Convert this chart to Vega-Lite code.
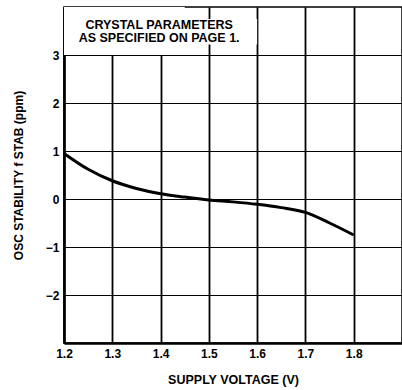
{
  "$schema": "https://vega.github.io/schema/vega-lite/v6.json",
  "autosize": {"type": "none"},
  "padding": {"left": 64, "top": 7, "right": 0, "bottom": 47},
  "width": 338,
  "height": 336,
  "background": "white",
  "config": {
    "view": {"stroke": "black", "strokeWidth": 1.5},
    "font": "Liberation Sans",
    "axis": {
      "labelFont": "Liberation Sans",
      "labelFontWeight": "bold",
      "labelFontSize": 12,
      "labelColor": "black",
      "labelFlush": false,
      "titleFont": "Liberation Sans",
      "titleFontWeight": "bold",
      "titleFontSize": 12,
      "titleColor": "black",
      "gridColor": "black",
      "gridOpacity": 1,
      "domainColor": "black",
      "domainWidth": 2.5,
      "ticks": false
    }
  },
  "datasets": {
    "curve": [
      {"v": 1.2, "s": 0.95},
      {"v": 1.25, "s": 0.62},
      {"v": 1.3, "s": 0.38},
      {"v": 1.35, "s": 0.22},
      {"v": 1.4, "s": 0.11},
      {"v": 1.45, "s": 0.04},
      {"v": 1.5, "s": -0.02},
      {"v": 1.55, "s": -0.06},
      {"v": 1.6, "s": -0.11},
      {"v": 1.65, "s": -0.18},
      {"v": 1.7, "s": -0.28},
      {"v": 1.75, "s": -0.5},
      {"v": 1.8, "s": -0.75}
    ],
    "boxes": [
      {"x1": 1.2, "x2": 1.45, "y1": 3, "y2": 4},
      {"x1": 1.45, "x2": 1.6, "y1": 3.22, "y2": 3.75}
    ],
    "notes": [
      {"x": 1.397, "y": 3.62, "label": "CRYSTAL PARAMETERS"},
      {"x": 1.397, "y": 3.35, "label": "AS SPECIFIED ON PAGE 1."}
    ]
  },
  "layer": [
    {
      "data": {"name": "boxes"},
      "mark": {"type": "rect", "fill": "white", "stroke": null},
      "encoding": {
        "x": {"field": "x1", "type": "quantitative",
          "scale": {"domain": [1.2, 1.9], "nice": false, "zero": false},
          "axis": {"values": [1.2, 1.3, 1.4, 1.5, 1.6, 1.7, 1.8], "format": ".1f", "grid": true, "gridWidth": 1.8, "labelPadding": 5, "title": "SUPPLY VOLTAGE (V)", "titleFontSize": 12.5, "titlePadding": 14}},
        "x2": {"field": "x2"},
        "y": {"field": "y1", "type": "quantitative",
          "scale": {"domain": [-3, 4], "nice": false, "zero": false},
          "axis": {"values": [-2, -1, 0, 1, 2, 3], "format": "d", "grid": true, "gridWidth": 1.2, "labelPadding": 5, "title": "OSC STABILITY f STAB (ppm)", "titlePadding": 20}},
        "y2": {"field": "y2"}
      }
    },
    {
      "data": {"name": "notes"},
      "mark": {"type": "text", "font": "Liberation Sans", "fontWeight": "bold", "fontSize": 12.5, "align": "center", "baseline": "middle", "color": "black"},
      "encoding": {
        "x": {"field": "x", "type": "quantitative"},
        "y": {"field": "y", "type": "quantitative"},
        "text": {"field": "label"}
      }
    },
    {
      "data": {"name": "curve"},
      "mark": {"type": "line", "color": "black", "strokeWidth": 3, "interpolate": "monotone"},
      "encoding": {
        "x": {"field": "v", "type": "quantitative"},
        "y": {"field": "s", "type": "quantitative"}
      }
    }
  ]
}
